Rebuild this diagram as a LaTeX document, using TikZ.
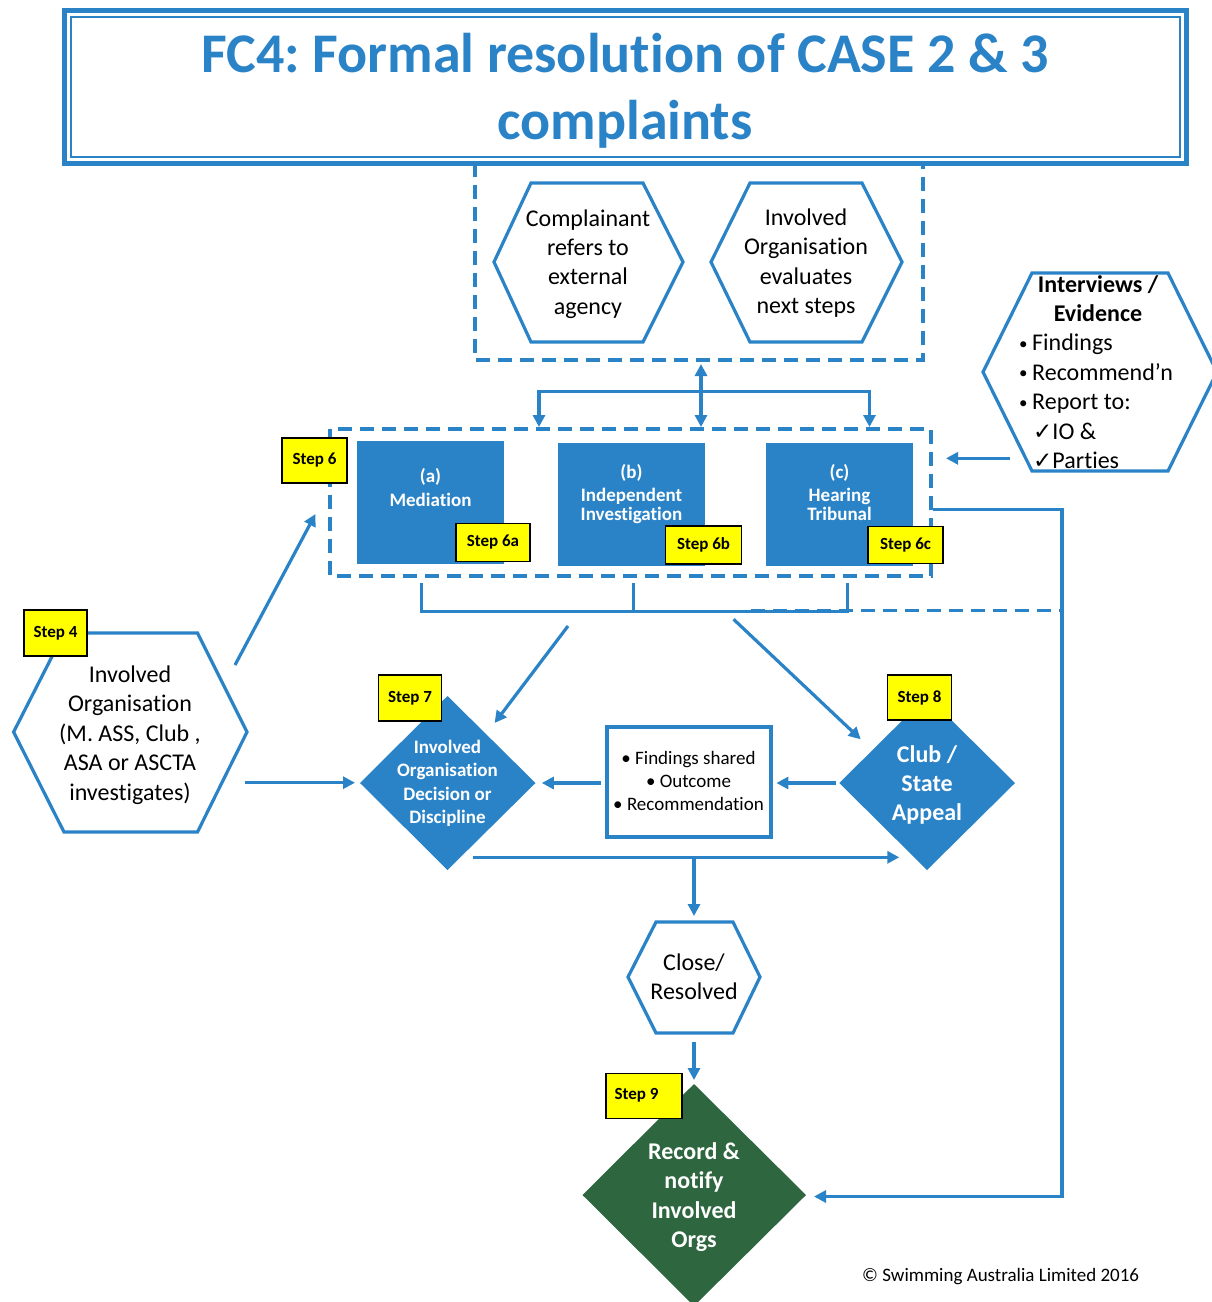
\documentclass[tikz,border=0pt]{standalone}
\usepackage{fontspec}
\setmainfont{Carlito}[Ligatures=NoCommon]
\newfontfamily\symfont{DejaVu Sans}
\usetikzlibrary{arrows.meta}
\definecolor{fcblue}{RGB}{43,131,199}
\definecolor{fcgreen}{RGB}{46,103,63}
\definecolor{stepyellow}{RGB}{255,255,0}
\newcommand\fsz[2]{\fontsize{#1}{#2}\selectfont}
\newcommand\smbul{\makebox[13pt][l]{\raisebox{1.5pt}{\fsz{17}{20}•}}}
\newcommand\chk{{\symfont\fsz{23}{24}✓}}
\frenchspacing
\begin{document}
\begin{tikzpicture}[x=1pt,y=-1pt,
  conn/.style={draw=fcblue,line width=3.2pt},
  arr/.style={conn,-{Triangle[length=12pt,width=12pt]}},
  dblarr/.style={conn,{Triangle[length=12pt,width=12pt]}-{Triangle[length=12pt,width=12pt]}},
  dashln/.style={draw=fcblue,line width=3.5pt,dash pattern=on 14pt off 8pt},
  hexline/.style={draw=fcblue,line width=3.2pt,line join=miter},
  stepbox/.style={draw=black,fill=stepyellow,line width=1.6pt,inner sep=0pt,font=\fsz{17}{20}\bfseries},
  plain/.style={inner sep=0pt,align=center,font=\fsz{24}{29.4}},
  wbold/.style={inner sep=0pt,align=center,text=white,font=\fsz{19}{23.2}\bfseries},
  wbig/.style={inner sep=0pt,align=center,text=white,font=\fsz{24}{29.4}\bfseries},
  bluerect/.style={fill=fcblue,inner sep=0pt,minimum width=147pt,minimum height=123pt},
  titletext/.style={anchor=base,inner sep=0pt,text=fcblue,font=\fsz{56}{67}\bfseries},
]
\useasboundingbox (0,0) rectangle (1211,1302);
\fill[white] (0,0) rectangle (1211,1302);

% ---------- title ----------
\draw[fcblue,line width=5pt] (64,10) rectangle (1186,163);
\draw[fcblue,line width=1.5pt] (71,17) rectangle (1180,157);
\node[titletext] (title1) at (625,72) {FC4: Formal resolution of CASE 2 \& 3};
\node[titletext] (title2) at (625,139) {complaints};

% ---------- top dashed group ----------
\draw[dashln] (475,163) -- (475,360) -- (923,360) -- (923,163);
\draw[hexline] (494,262) -- (531,183) -- (643,183) -- (683,262) -- (643,342) -- (531,342) -- cycle;
\node[plain] (hexA) at (588,264) {Complainant\\refers to\\external\\agency};
\draw[hexline] (711,262) -- (750,183) -- (862,183) -- (902,262) -- (862,342) -- (750,342) -- cycle;
\node[plain] (hexB) at (806,263) {Involved\\Organisation\\evaluates\\next steps};

% ---------- connectors between groups ----------
\coordinate (topHub) at (701,391.5);
\coordinate (topUp) at (701,364);
\coordinate (topDn) at (701,427);
\coordinate (hubL) at (539,391.5);
\coordinate (hubR) at (869.5,391.5);
\coordinate (leftDn) at (539,427);
\coordinate (rightDn) at (869.5,427);
\draw[arr] (topHub) -- (topUp);
\draw[arr] (topHub) -- (topDn);
\draw[dblarr] (leftDn) -- (hubL) -- (hubR) -- (rightDn);

% ---------- step 6 group ----------
\draw[dashln] (330,429) rectangle (931,576);

\node[bluerect] (boxA) at (430.5,502.5) {};
\node[wbold,anchor=base] (boxAt1) at (430.5,482.5) {(a)};
\node[wbold,anchor=base] (boxAt2) at (430.5,506) {Mediation};

\node[bluerect] (boxB) at (631.5,504.2) {};
\node[wbold,anchor=base] (boxBt1) at (631.5,478) {(b)};
\node[wbold,anchor=base] (boxBt2) at (631.5,501) {Independent};
\node[wbold,anchor=base] (boxBt3) at (631.5,520) {Investigation};

\node[bluerect] (boxC) at (839.5,504.3) {};
\node[wbold,anchor=base] (boxCt1) at (839.5,478) {(c)};
\node[wbold,anchor=base] (boxCt2) at (839.5,501) {Hearing};
\node[wbold,anchor=base] (boxCt3) at (839.5,520) {Tribunal};

\node[stepbox,minimum width=65pt,minimum height=45pt] (s6) at (314.5,460.5) {Step 6};
\node[stepbox,minimum width=74pt,minimum height=38pt] (s6a) at (493,542.5) {Step 6a};
\node[stepbox,minimum width=76pt,minimum height=38pt] (s6b) at (703.5,545) {Step 6b};
\node[stepbox,minimum width=75pt,minimum height=37pt] (s6c) at (905.5,545) {Step 6c};

% bracket below the step 6 group
\coordinate (brA) at (421.5,583);
\coordinate (brB) at (633.5,583);
\coordinate (brC) at (847.5,583);
\coordinate (brAl) at (421.5,611.5);
\coordinate (brBl) at (633.5,611.5);
\coordinate (brCl) at (847.5,611.5);
\draw[conn] (brA) -- (brAl) -- (brCl) -- (brC);
\draw[conn] (brB) -- (brBl);
\coordinate (dashS) at (751,610.5);
\coordinate (dashE) at (1062,610.5);
\draw[dashln] (dashS) -- (dashE);

% right return line to step 9
\coordinate (rStart) at (933,509.5);
\coordinate (rCorner1) at (1062,509.5);
\coordinate (rCorner2) at (1062,1196.5);
\coordinate (rEnd) at (814,1196.5);
\draw[arr] (rStart) -- (rCorner1) -- (rCorner2) -- (rEnd);

% ---------- interviews hexagon ----------
\draw[hexline] (983,372) -- (1032,273) -- (1168,273) -- (1217,372) -- (1168,471) -- (1032,471) -- cycle;
\node[anchor=base,inner sep=0pt,font=\fsz{24}{29.4}\bfseries] (iv1) at (1098,292) {Interviews /};
\node[anchor=base,inner sep=0pt,font=\fsz{24}{29.4}\bfseries] (iv2) at (1098,321.4) {Evidence};
\node[anchor=base west,inner sep=0pt,font=\fsz{24}{29.4}] (iv3) at (1019,350.8) {\smbul Findings};
\node[anchor=base west,inner sep=0pt,font=\fsz{24}{29.4}] (iv4) at (1019,380.2) {\smbul Recommend’n};
\node[anchor=base west,inner sep=0pt,font=\fsz{24}{29.4}] (iv5) at (1019,409.6) {\smbul Report to:};
\node[anchor=base west,inner sep=0pt,font=\fsz{24}{29.4}] (iv6) at (1033,439) {\chk IO \&};
\node[anchor=base west,inner sep=0pt,font=\fsz{24}{29.4}] (iv7) at (1033,468.4) {\chk Parties};
\coordinate (ivOut) at (1010,458.3);
\coordinate (ivIn) at (946,458.3);
\draw[arr] (ivOut) -- (ivIn);

% ---------- step 4 hexagon ----------
\draw[hexline] (13.6,732) -- (64,633) -- (197.5,633) -- (247,732) -- (197.5,832) -- (64,832) -- cycle;
\node[plain] (hexIO) at (130,735) {Involved\\Organisation\\(M. ASS, Club ,\\ASA or ASCTA\\investigates)};
\node[stepbox,minimum width=63pt,minimum height=46pt] (s4) at (55.5,633) {Step 4};
\coordinate (ioUp) at (235,665);
\coordinate (grpIn) at (315.5,514);
\draw[arr] (ioUp) -- (grpIn);
\coordinate (ioRight) at (244.6,782.7);
\coordinate (d7Left) at (355,782.7);
\draw[arr] (ioRight) -- (d7Left);

% ---------- step 7 diamond ----------
\fill[fcblue] (360,783) -- (447.5,696) -- (535.5,783) -- (447.5,870) -- cycle;
\node[wbold] (d7) at (447.5,783.4) {Involved\\Organisation\\Decision or\\Discipline};
\node[stepbox,minimum width=63pt,minimum height=46pt] (s7) at (410,697.8) {Step 7};
\coordinate (brToD7s) at (568,626);
\coordinate (brToD7e) at (494.6,723);
\draw[arr] (brToD7s) -- (brToD7e);
\coordinate (brToD8s) at (733.6,619.3);
\coordinate (brToD8e) at (860.7,739.3);
\draw[arr] (brToD8s) -- (brToD8e);

% ---------- findings box ----------
\node[draw=fcblue,line width=3.2pt,inner sep=0pt,minimum width=164pt,minimum height=110pt] (find) at (689,782) {};
\node[inner sep=0pt,align=center,font=\fsz{19}{23.2}] (findt) at (688.5,781) {• Findings shared\\• Outcome\\• Recommendation};
\coordinate (findL) at (600.7,783);
\coordinate (d7R) at (541.8,783);
\draw[arr] (findL) -- (d7R);
\coordinate (d8L) at (835.7,783);
\coordinate (findR) at (776.4,783);
\draw[arr] (d8L) -- (findR);

% ---------- step 8 diamond ----------
\fill[fcblue] (839.3,783) -- (927,696) -- (1015,783) -- (927,870) -- cycle;
\node[wbig] (d8) at (927,785) {Club /\\State\\Appeal};
\node[stepbox,minimum width=64pt,minimum height=45pt] (s8) at (919.5,697.5) {Step 8};

% ---------- bottom line ----------
\coordinate (bl) at (472.7,857.3);
\coordinate (br) at (899.3,857.3);
\coordinate (bmid) at (694,857.3);
\coordinate (closeTop) at (694,916);
\draw[arr] (bl) -- (br);
\draw[arr] (bmid) -- (closeTop);

% ---------- close hexagon ----------
\draw[hexline] (628,977) -- (656,922) -- (733,922) -- (760,977) -- (733,1033) -- (656,1033) -- cycle;
\node[plain] (close) at (694,977) {Close/\\Resolved};
\coordinate (closeBot) at (694,1042);
\coordinate (greenTop) at (694,1080);
\draw[arr] (closeBot) -- (greenTop);

% ---------- step 9 diamond ----------
\fill[fcgreen] (582.5,1195) -- (694,1084) -- (806,1195) -- (694,1306) -- cycle;
\node[wbig] (green) at (694,1197) {Record \&\\notify\\Involved\\Orgs};
\node[stepbox,minimum width=76pt,minimum height=45pt] (s9) at (644,1096) {};
\node[inner sep=0pt,font=\fsz{17}{20}\bfseries] (s9t) at (636.5,1095) {Step 9};

% ---------- copyright ----------
\node[anchor=base west,inner sep=0pt,font=\fsz{19}{23}] (copy) at (862,1281) {© Swimming Australia Limited 2016};
\end{tikzpicture}
\end{document}
